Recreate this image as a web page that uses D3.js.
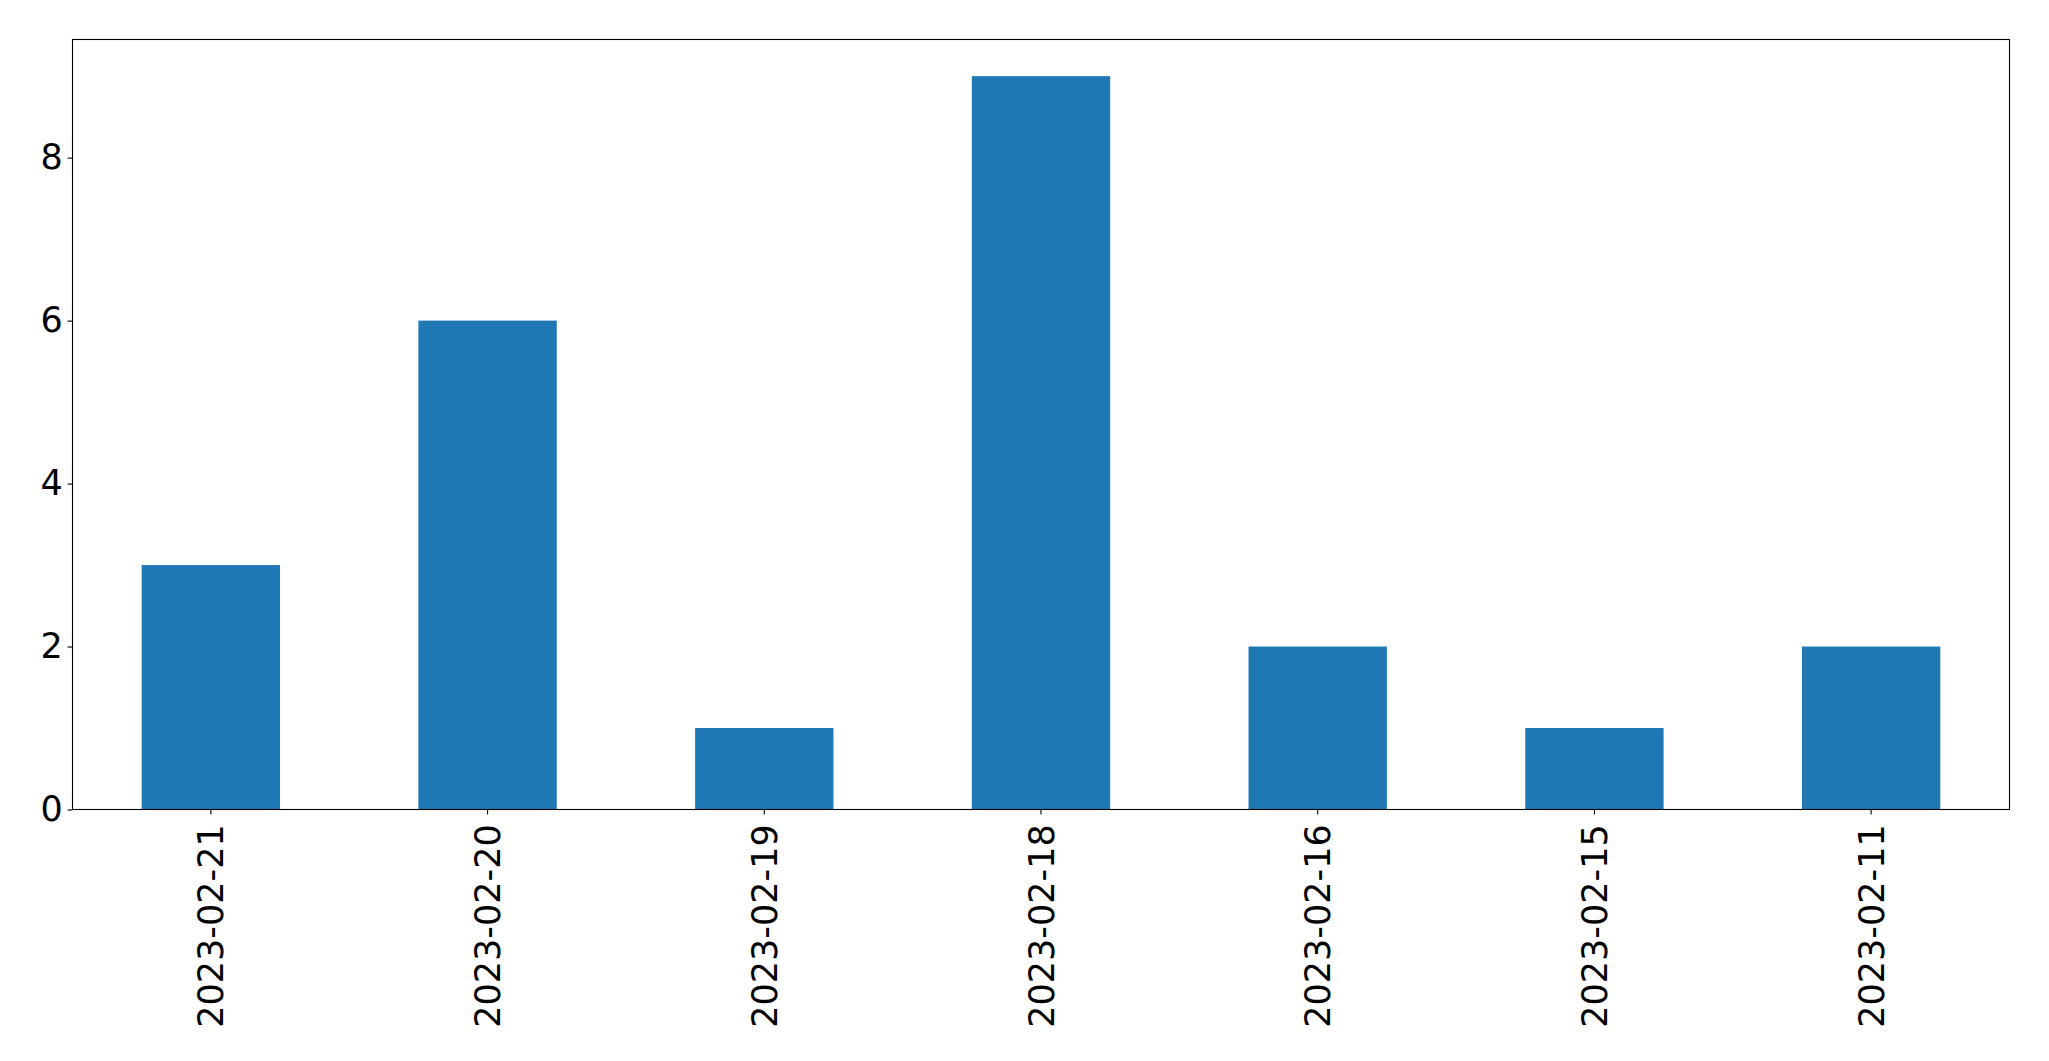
<!DOCTYPE html>
<html>
<head>
<meta charset="utf-8">
<script src="https://cdn.jsdelivr.net/npm/d3@7"></script>
<style>
  html, body { margin: 0; padding: 0; background: #fff; }
  svg { display: block; }
  text { font-family: "DejaVu Sans", sans-serif; fill: #000; }
</style>
</head>
<body>
<script>
const categories = ["2023-02-21", "2023-02-20", "2023-02-19", "2023-02-18", "2023-02-16", "2023-02-15", "2023-02-11"];
const values = [3, 6, 1, 9, 2, 1, 2];
const yTicks = [0, 2, 4, 6, 8];

const W = 2049, H = 1061;
const margin = { left: 72.5, right: W - 2009.5, top: 39.5, bottom: H - 809.5 };
const iw = W - margin.left - margin.right;
const ih = H - margin.top - margin.bottom;
const fontSize = 35;
const tickLen = 4.9, tickPad = 4.9;

const svg = d3.select("body").append("svg").attr("width", W).attr("height", H);
const g = svg.append("g").attr("transform", `translate(${margin.left},${margin.top})`);

const x = d3.scaleBand().domain(categories).range([0, iw]).paddingInner(0.5).paddingOuter(0.25);
const yMax = d3.max(values) * 1.05;
const y = d3.scaleLinear().domain([0, yMax]).range([ih, 0]);

g.selectAll("rect.bar").data(values).join("rect")
  .attr("class", "bar")
  .attr("x", (d, i) => x(categories[i]))
  .attr("width", x.bandwidth())
  .attr("y", d => y(d))
  .attr("height", d => y(0) - y(d))
  .attr("fill", "#1f77b4");

// frame
g.append("rect").attr("x", 0).attr("y", 0).attr("width", iw).attr("height", ih)
  .attr("fill", "none").attr("stroke", "#000").attr("stroke-width", 1.1);

// y axis
const yAxis = g.append("g").call(d3.axisLeft(y).tickValues(yTicks).tickFormat(d3.format("d")).tickSizeInner(tickLen).tickSizeOuter(0).tickPadding(tickPad));
yAxis.select(".domain").remove();
yAxis.selectAll("line").attr("stroke", "#000").attr("stroke-width", 1.1);
yAxis.selectAll("text").attr("font-size", fontSize).attr("font-family", "DejaVu Sans").attr("fill", "#000");

// x axis
const xAxis = g.append("g").attr("transform", `translate(0,${ih})`)
  .call(d3.axisBottom(x).tickSizeInner(tickLen).tickSizeOuter(0).tickPadding(tickPad));
xAxis.select(".domain").remove();
xAxis.selectAll("line").attr("stroke", "#000").attr("stroke-width", 1.1);
xAxis.selectAll("text")
  .attr("font-size", fontSize).attr("font-family", "DejaVu Sans").attr("fill", "#000")
  .attr("text-anchor", "end")
  .attr("transform", "rotate(-90)")
  .attr("x", -(tickLen + tickPad + 5))
  .attr("y", 0)
  .attr("dy", "0.36em");
</script>
</body>
</html>
